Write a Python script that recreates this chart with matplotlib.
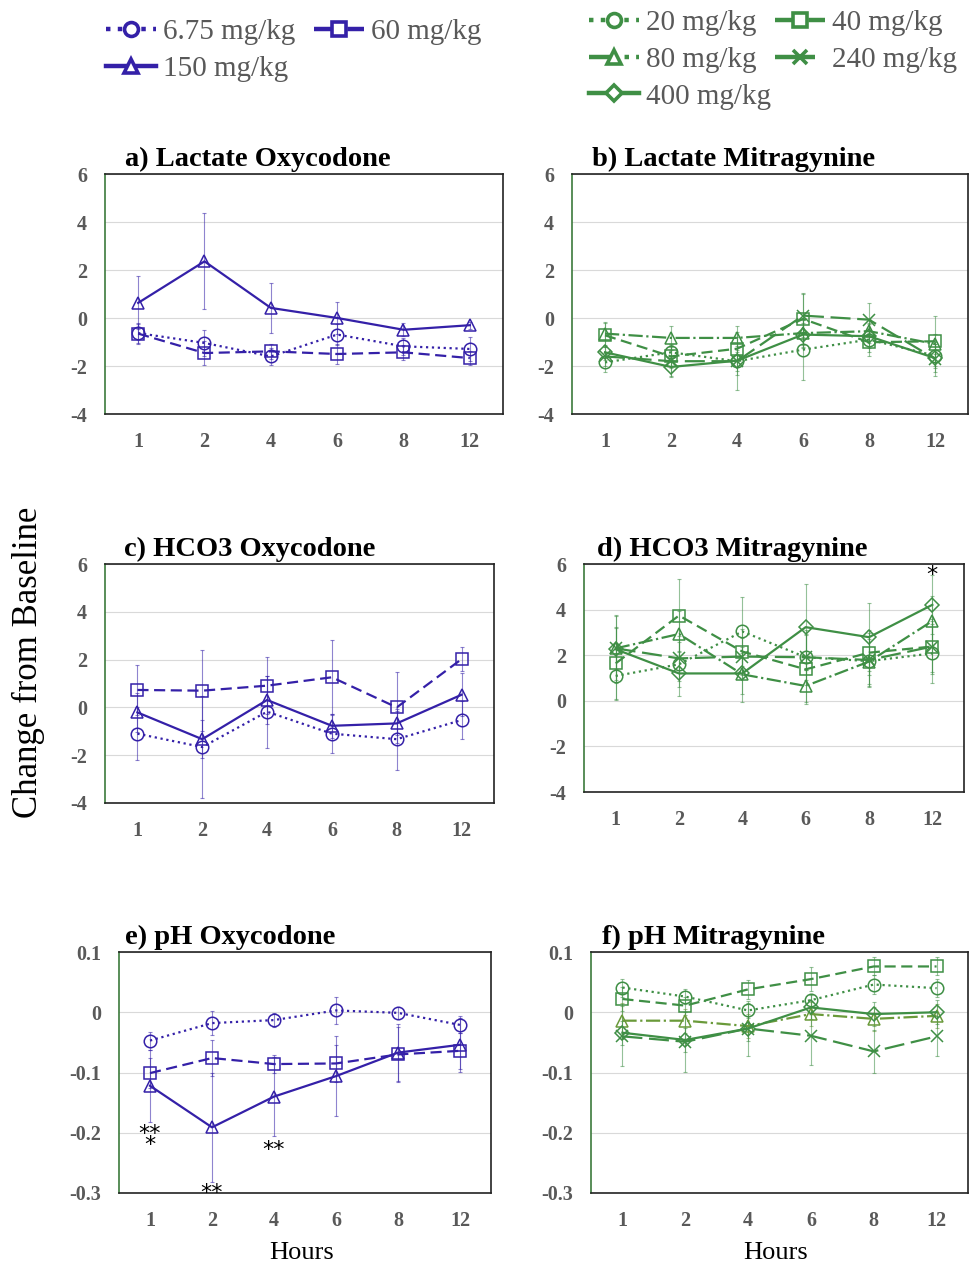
import matplotlib.pyplot as plt
from matplotlib.lines import Line2D
import numpy as np

plt.rcParams['font.family'] = ['Liberation Serif', 'DejaVu Serif']

hours = ['1', '2', '4', '6', '8', '12']

# oxycodone doses / mitragynine doses
oxy_doses = ['6.75 mg/kg', '60 mg/kg', '150 mg/kg']
mit_doses = ['20 mg/kg', '40 mg/kg', '80 mg/kg', '240 mg/kg', '400 mg/kg']

# a) lactate oxycodone
lac_oxy = [
    [-0.63, -1.04, -1.60, -0.69, -1.18, -1.29],
    [-0.65, -1.46, -1.39, -1.50, -1.43, -1.67],
    [0.63, 2.36, 0.42, 0.00, -0.49, -0.30],
]
lac_oxy_err = [
    [0.40, 0.55, 0.35, 0.45, 0.35, 0.50],
    [0.45, 0.50, 0.30, 0.40, 0.30, 0.30],
    [1.10, 2.00, 1.05, 0.65, 0.28, 0.15],
]
# b) lactate mitragynine
lac_mit = [
    [-1.85, -1.43, -1.80, -1.32, -0.90, -1.57],
    [-0.72, -1.60, -1.28, -0.04, -1.01, -0.97],
    [-0.65, -0.83, -0.83, -0.63, -0.55, -1.08],
    [-1.60, -1.80, -1.80, 0.10, -0.07, -1.70],
    [-1.43, -2.04, -1.78, -0.69, -0.76, -1.67],
]
lac_mit_err = [
    [0.40, 0.30, 0.40, 1.25, 0.70, 0.50],
    [0.50, 0.50, 0.50, 1.10, 0.40, 1.05],
    [0.50, 0.50, 0.50, 0.60, 0.50, 0.40],
    [0.40, 0.60, 1.20, 0.90, 0.70, 0.70],
    [0.30, 0.40, 0.60, 0.50, 0.50, 0.60],
]
# c) HCO3 oxycodone
hco3_oxy = [
    [-1.10, -1.66, -0.18, -1.10, -1.33, -0.53],
    [0.73, 0.70, 0.91, 1.26, 0.00, 2.02],
    [-0.21, -1.33, 0.31, -0.77, -0.67, 0.53],
]
hco3_oxy_err = [
    [1.10, 2.15, 1.50, 0.80, 1.27, 0.80],
    [1.05, 1.70, 1.20, 1.55, 1.50, 0.50],
    [0.80, 0.80, 1.00, 0.50, 0.50, 0.90],
]
# d) HCO3 mitragynine
hco3_mit = [
    [1.09, 1.60, 3.04, 1.91, 1.74, 2.08],
    [1.64, 3.74, 2.16, 1.38, 2.11, 2.38],
    [2.30, 2.93, 1.16, 0.65, 1.72, 3.50],
    [2.30, 1.86, 1.94, 1.91, 1.79, 2.38],
    [2.26, 1.20, 1.20, 3.23, 2.79, 4.21],
]
hco3_mit_err = [
    [1.00, 1.00, 1.50, 1.00, 1.10, 1.30],
    [1.60, 1.60, 1.00, 1.50, 1.00, 1.20],
    [0.90, 1.00, 1.20, 0.70, 1.00, 1.10],
    [1.40, 1.00, 0.80, 1.20, 1.20, 1.10],
    [1.50, 1.00, 0.90, 1.90, 1.50, 1.30],
]
# e) pH oxycodone
ph_oxy = [
    [-0.047, -0.018, -0.013, 0.003, -0.001, -0.021],
    [-0.101, -0.076, -0.086, -0.085, -0.070, -0.064],
    [-0.122, -0.191, -0.140, -0.106, -0.067, -0.054],
]
ph_oxy_err = [
    [0.015, 0.020, 0.012, 0.023, 0.010, 0.014],
    [0.025, 0.030, 0.015, 0.030, 0.045, 0.030],
    [0.060, 0.090, 0.065, 0.067, 0.047, 0.045],
]
# f) pH mitragynine
ph_mit = [
    [0.041, 0.026, 0.003, 0.020, 0.046, 0.040],
    [0.022, 0.011, 0.038, 0.055, 0.076, 0.076],
    [-0.014, -0.014, -0.023, -0.003, -0.011, -0.006],
    [-0.040, -0.049, -0.027, -0.039, -0.065, -0.040],
    [-0.034, -0.046, -0.027, 0.008, -0.003, 0.000],
]
ph_mit_err = [
    [0.015, 0.013, 0.012, 0.010, 0.015, 0.015],
    [0.020, 0.015, 0.016, 0.020, 0.015, 0.015],
    [0.030, 0.020, 0.020, 0.020, 0.020, 0.020],
    [0.050, 0.050, 0.045, 0.048, 0.036, 0.033],
    [0.020, 0.020, 0.020, 0.020, 0.020, 0.020],
]

# significance marks: (panel, hour index, y of first glyph centre, text)
stars = [
    ('d', 5, 5.74, '*'),
    ('e', 0, -0.193, '**\n*'),
    ('e', 1, -0.290, '**'),
    ('e', 2, -0.220, '**'),
]

BLUE = '#3420a8'
GREEN = '#3f8f45'
OLIVE = '#6a9a3a'
GRAY = '#595959'

oxy_style = [(':', 'o'), ((0, (5, 2.5)), 's'), ('-', '^')]
mit_style = [(':', 'o'), ((0, (5, 2.5)), 's'), ('-.', '^'),
             ((0, (9, 3)), 'x'), ('-', 'D')]

W, H = 969, 1265
fig = plt.figure(figsize=(W / 100, H / 100), dpi=100)


def box(l, r, t, b):
    return [l / W, 1 - b / H, (r - l) / W, (b - t) / H]


panels = {
    'a': (box(105, 503, 174, 414), 'a) Lactate Oxycodone', lac_oxy, lac_oxy_err, 'oxy', (-4, 6), 0.05),
    'b': (box(572, 968, 174, 414), 'b) Lactate Mitragynine', lac_mit, lac_mit_err, 'mit', (-4, 6), 0.05),
    'c': (box(105, 494, 564, 803), 'c) HCO3 Oxycodone', hco3_oxy, hco3_oxy_err, 'oxy', (-4, 6), 0.05),
    'd': (box(584, 964, 564, 792), 'd) HCO3 Mitragynine', hco3_mit, hco3_mit_err, 'mit', (-4, 6), 0.034),
    'e': (box(119, 491, 952, 1193), 'e) pH Oxycodone', ph_oxy, ph_oxy_err, 'oxy', (-0.3, 0.1), 0.016),
    'f': (box(591, 968, 952, 1193), 'f) pH Mitragynine', ph_mit, ph_mit_err, 'mit', (-0.3, 0.1), 0.03),
}

x = np.arange(len(hours))
axes = {}
for key, (pos, title, vals, errs, drug, ylim, tx) in panels.items():
    ax = fig.add_axes(pos)
    axes[key] = ax
    color = BLUE if drug == 'oxy' else GREEN
    styles = oxy_style if drug == 'oxy' else mit_style
    for i, (v, e) in enumerate(zip(vals, errs)):
        ls, mk = styles[i]
        c = OLIVE if (key == 'f' and i == 2) else color
        ax.errorbar(x, v, yerr=e, fmt='none', ecolor=c, alpha=0.55,
                    elinewidth=0.8, capsize=1.5, capthick=0.8, zorder=2)
        ms = 9 if mk != 'D' else 7.5
        ax.plot(x, v, linestyle=ls, marker=mk, color=c, lw=1.6,
                markersize=ms, markerfacecolor='none', markeredgewidth=1.1,
                zorder=3)
    ax.set_xlim(-0.5, len(hours) - 0.5)
    ax.set_ylim(*ylim)
    ax.set_xticks(x)
    ax.set_xticklabels(hours)
    if ylim[1] > 1:
        ax.set_yticks(np.arange(-4, 7, 2))
        ax.set_yticklabels([str(t) for t in range(-4, 7, 2)])
    else:
        ax.set_yticks([-0.3, -0.2, -0.1, 0, 0.1])
        ax.set_yticklabels(['-0.3', '-0.2', '-0.1', '0', '0.1'])
    ax.tick_params(length=0, pad=13, labelsize=14.5, labelcolor=GRAY)
    for lab in ax.get_xticklabels() + ax.get_yticklabels():
        lab.set_fontweight('bold')
    ax.grid(axis='y', color='#d9d9d9', lw=0.8)
    ax.set_axisbelow(True)
    for s in ax.spines.values():
        s.set_color('#222222')
        s.set_linewidth(1.2)
    ax.spines['left'].set_color('#3c7a3c')
    ax.text(tx, 1.008, title, transform=ax.transAxes, fontsize=20.5,
            fontweight='bold', ha='left', va='bottom')

# the asterisk glyph sits near the top of its line box
star_size = 16
for key, i, y, s in stars:
    axes[key].annotate(s, xy=(i, y), xytext=(0, 0.2 * star_size),
                       textcoords='offset points', ha='center', va='top',
                       fontsize=star_size, family='DejaVu Sans', color='black',
                       linespacing=0.45, multialignment='center')

fig.text(28 / W, 1 - 662 / H, 'Change from Baseline', rotation=90,
         ha='center', va='center', fontsize=25)
fig.text(302 / W, 1 - 1253 / H, 'Hours', ha='center', va='center', fontsize=19)
fig.text(776 / W, 1 - 1253 / H, 'Hours', ha='center', va='center', fontsize=19)


# legend proxies, drawn heavier like the reference
def proxy(style, color):
    ls, mk = style
    return Line2D([], [], linestyle=ls, marker=mk, color=color, lw=3.2,
                  markersize=10 if mk != 'D' else 8.5, markerfacecolor='white',
                  markeredgewidth=2.6)


lkw = dict(ncol=2, loc='upper left', frameon=False, fontsize=21,
           handlelength=1.7, handletextpad=0.25, labelspacing=0.35,
           labelcolor=GRAY, borderaxespad=0, borderpad=0)

order = [0, 2, 1]
fig.legend([proxy(oxy_style[i], BLUE) for i in order], [oxy_doses[i] for i in order],
           bbox_to_anchor=(106 / W, 1 - 19 / H), columnspacing=0.65, **lkw)
order = [0, 2, 4, 1, 3]
fig.legend([proxy(mit_style[i], GREEN) for i in order], [mit_doses[i] for i in order],
           bbox_to_anchor=(589 / W, 1 - 10 / H), columnspacing=0.15, **lkw)

fig.savefig('out.png', dpi=100)
